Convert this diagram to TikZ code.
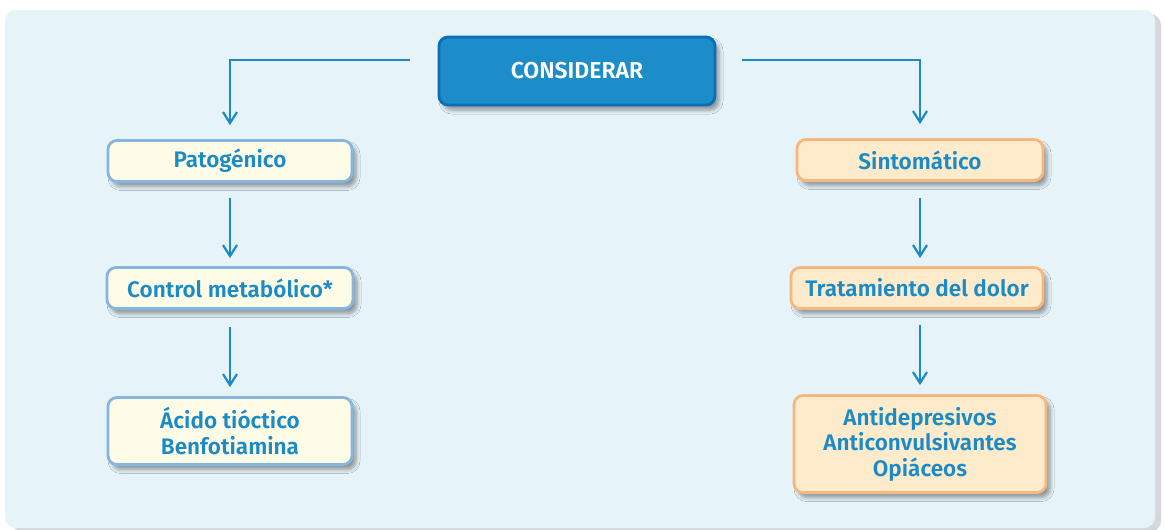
\documentclass[tikz,border=0pt]{standalone}
\usepackage{fontspec}
\setmainfont{Fira Sans}[BoldFont={Fira Sans SemiBold}]
\usetikzlibrary{arrows.meta,shadows.blur}
\definecolor{panel}{HTML}{E6F4FA}
\definecolor{consfill}{HTML}{1C8DC8}
\definecolor{consdraw}{HTML}{0B6EB8}
\definecolor{txtblue}{HTML}{1A8BC6}
\definecolor{lfill}{HTML}{FEFCE6}
\definecolor{ldraw}{HTML}{86B5DE}
\definecolor{rfill}{HTML}{FEEBCB}
\definecolor{rdraw}{HTML}{F8B77C}
\definecolor{pshadow}{HTML}{D4D8DA}
\tikzset{
  box/.style={rounded corners=9pt, line width=2.8pt, align=center, inner sep=0pt,
    font=\bfseries\fontsize{22.5}{25.5}\selectfont, text=txtblue,
    blur shadow={shadow xshift=4pt, shadow yshift=-5pt, shadow blur steps=6, shadow opacity=40, shadow blur radius=4pt}},
  lbox/.style={box, fill=lfill, draw=ldraw},
  rbox/.style={box, fill=rfill, draw=rdraw},
  consbox/.style={box, fill=consfill, draw=consdraw, text=white, font=\bfseries\fontsize{23}{25}\selectfont},
  conn/.style={draw=txtblue, line width=2.2pt, -{Straight Barb[length=11pt,width=14pt,line width=2.2pt]}},
}
\begin{document}
\begin{tikzpicture}[x=1pt,y=-1pt]
\useasboundingbox (0,0) rectangle (1165,530);
\fill[pshadow, rounded corners=11pt] (12,14) rectangle (1161,532);
\fill[panel, rounded corners=11pt] (5,10) rectangle (1155,528);

\node[consbox, minimum width=276pt, minimum height=68pt] (cons) at (577,71) {CONSIDERAR};

\node[lbox, minimum width=244pt, minimum height=41pt] (pat) at (230,161) {Patogénico};
\node[lbox, minimum width=246pt, minimum height=41pt] (ctl) at (230,288) {Control metabólico*};
\node[lbox, minimum width=244pt, minimum height=67pt] (aci) at (230,431) {Ácido tióctico\\Benfotiamina};

\node[rbox, minimum width=246pt, minimum height=41pt] (sin) at (920,160) {Sintomático};
\node[rbox, minimum width=252pt, minimum height=41pt] (tra) at (917,288) {Tratamiento del dolor};
\node[rbox, minimum width=252pt, minimum height=97pt] (ant) at (920,444) {Antidepresivos\\Anticonvulsivantes\\Opiáceos};

\coordinate (l0) at (410,60);
\coordinate (r0) at (742,60);
\draw[conn, shorten >=14pt] (l0) -| (pat.north);
\draw[conn, shorten >=14pt] (r0) -| (sin.north);
\draw[conn, shorten <=15pt, shorten >=8pt] (pat.south) -- (ctl.north);
\draw[conn, shorten <=17pt, shorten >=9pt] (ctl.south) -- (aci.north);
\draw[conn, shorten <=16pt, shorten >=8pt] (sin.south) -- (sin.south |- tra.north);
\draw[conn, shorten <=15pt, shorten >=9pt] (sin.south |- tra.south) -- (ant.north);
\end{tikzpicture}
\end{document}
